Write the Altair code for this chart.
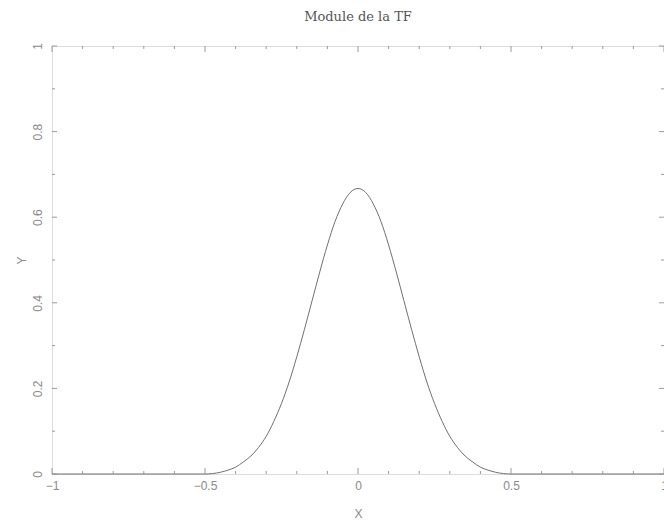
import altair as alt
import pandas as pd

# curve (x, |TF|)
curve_x = [-1.0, -0.5, -0.475, -0.45, -0.425, -0.4, -0.375, -0.35, -0.325, -0.3,
           -0.275, -0.25, -0.225, -0.2, -0.175, -0.15, -0.125, -0.1, -0.075, -0.05,
           -0.025, 0.0, 0.025, 0.05, 0.075, 0.1, 0.125, 0.15, 0.175, 0.2, 0.225,
           0.25, 0.275, 0.3, 0.325, 0.35, 0.375, 0.4, 0.425, 0.45, 0.475, 0.5, 1.0]
curve_y = [0.0, 0.0, 0.001, 0.004, 0.009, 0.016, 0.028, 0.042, 0.062, 0.088,
           0.123, 0.165, 0.215, 0.274, 0.338, 0.405, 0.472, 0.535, 0.590, 0.631,
           0.658, 0.667, 0.658, 0.631, 0.590, 0.535, 0.472, 0.405, 0.338, 0.274, 0.215,
           0.165, 0.123, 0.088, 0.062, 0.042, 0.028, 0.016, 0.009, 0.004, 0.001, 0.0, 0.0]

x_labels = [-1, -0.5, 0, 0.5, 1]
y_labels = [0, 0.2, 0.4, 0.6, 0.8, 1]
x_major = [-1, -0.5, 0, 0.5, 1]
x_minor = [-0.9, -0.8, -0.7, -0.6, -0.4, -0.3, -0.2, -0.1,
           0.1, 0.2, 0.3, 0.4, 0.6, 0.7, 0.8, 0.9]
y_major = [0, 0.2, 0.4, 0.6, 0.8, 1]
y_minor = [0.1, 0.3, 0.5, 0.7, 0.9]

W, H = 612, 428
LBL = "#8a8a8a"
TICK = "#9a9a9a"

df = pd.DataFrame({"x": curve_x, "y": curve_y})
xs = alt.Scale(domain=[-1, 1], nice=False, zero=False)
ys = alt.Scale(domain=[0, 1], nice=False, zero=False)

x_axis = alt.Axis(values=x_labels, format="~g", ticks=False, domain=False, grid=False,
                  labelColor=LBL, labelFont="Liberation Sans", labelFontSize=12,
                  labelPadding=6, labelFlush=False, labelOverlap=False,
                  titleColor=LBL, titleFont="Liberation Sans", titleFontSize=12,
                  titleFontWeight="normal", titlePadding=17)
y_axis = alt.Axis(values=y_labels, format="~g", ticks=False, domain=False, grid=False,
                  labelAngle=-90, labelColor=LBL, labelFont="Liberation Sans",
                  labelFontSize=12, labelPadding=8, labelFlush=False,
                  labelOverlap=False,
                  titleColor=LBL, titleFont="Liberation Sans", titleFontSize=12,
                  titleFontWeight="normal", titlePadding=3)

line = alt.Chart(df).mark_line(color="#707070", strokeWidth=1, interpolate="monotone").encode(
    x=alt.X("x:Q", scale=xs, title="X", axis=x_axis),
    y=alt.Y("y:Q", scale=ys, title="Y", axis=y_axis),
)

def xticks(vals, length):
    d = pd.DataFrame({"v": vals})
    bot = alt.Chart(d).mark_rule(color=TICK, strokeWidth=1).encode(
        x=alt.X("v:Q", scale=xs, title="X", axis=x_axis), y=alt.value(H), y2=alt.value(H - length))
    top = alt.Chart(d).mark_rule(color=TICK, strokeWidth=1).encode(
        x=alt.X("v:Q", scale=xs, title="X", axis=x_axis), y=alt.value(0), y2=alt.value(length))
    return [bot, top]

def yticks(vals, length):
    d = pd.DataFrame({"v": vals})
    lft = alt.Chart(d).mark_rule(color=TICK, strokeWidth=1).encode(
        y=alt.Y("v:Q", scale=ys, title="Y", axis=y_axis), x=alt.value(0), x2=alt.value(length))
    rgt = alt.Chart(d).mark_rule(color=TICK, strokeWidth=1).encode(
        y=alt.Y("v:Q", scale=ys, title="Y", axis=y_axis), x=alt.value(W), x2=alt.value(W - length))
    return [lft, rgt]

layers = [line] + xticks(x_major, 6) + xticks(x_minor, 3) + yticks(y_major, 5) + yticks(y_minor, 3)

chart = alt.layer(*layers).properties(
    width=W, height=H,
    title=alt.TitleParams("Module de la TF", font="DejaVu Serif", fontSize=13,
                          fontWeight="normal", color="#555555", anchor="middle", offset=19),
    autosize=alt.AutoSizeParams(type="none"),
    padding={"left": 52, "top": 46, "right": 0, "bottom": 48},
).configure_view(stroke="#b4b4b4", strokeWidth=1).configure(background="white")

chart.save("out.html", embed_options={"renderer": "svg", "actions": False})
